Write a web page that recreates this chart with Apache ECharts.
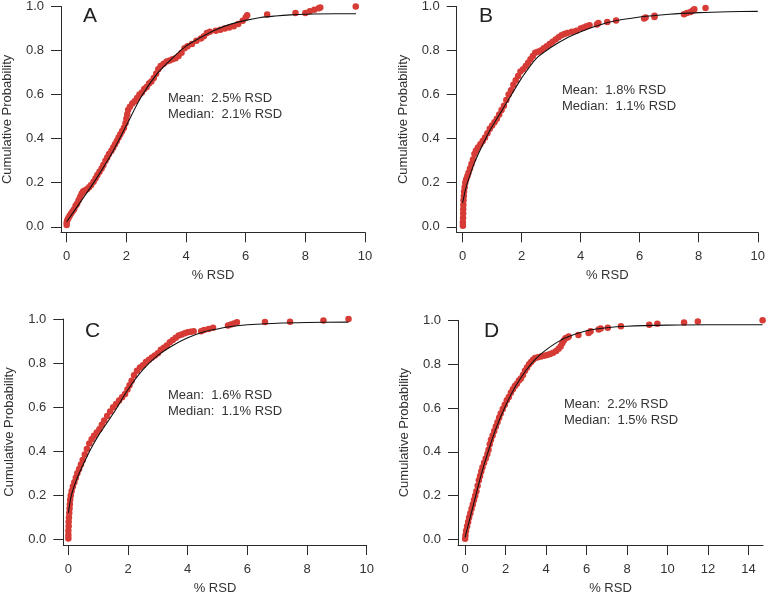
<!DOCTYPE html>
<html>
<head>
<meta charset="utf-8">
<script src="https://cdn.jsdelivr.net/npm/echarts@6/dist/echarts.min.js"></script>
<style>
html,body{margin:0;padding:0;background:#fff;}
#c{width:768px;height:596px;}
</style>
</head>
<body>
<div id="c"></div>
<script>
// ---- Data ----
const panelLabels = ['A', 'B', 'C', 'D'];
const meanTexts = ['Mean:  2.5% RSD', 'Mean:  1.8% RSD', 'Mean:  1.6% RSD', 'Mean:  2.2% RSD'];
const medianTexts = ['Median:  2.1% RSD', 'Median:  1.1% RSD', 'Median:  1.1% RSD', 'Median:  1.5% RSD'];
const xTicks10 = [0, 2, 4, 6, 8, 10];
const xTicks14 = [0, 2, 4, 6, 8, 10, 12, 14];
const yTicks = [0, 0.2, 0.4, 0.6, 0.8, 1.0];

// Panel A
const aX = [0,0,0.02,0.06,0.1,0.15,0.2,0.25,0.3,0.35,0.4,0.45,0.5,0.55,0.6,0.68,0.75,0.82,0.9,0.97,1.03,1.1,1.17,1.23,1.3,1.36,1.42,1.5,1.56,1.62,1.68,1.74,1.8,1.86,1.92,1.97,2.0,2.03,2.06,2.12,2.2,2.28,2.36,2.44,2.52,2.6,2.68,2.76,2.84,2.92,3.0,3.07,3.15,3.25,3.35,3.45,3.55,3.65,3.75,3.85,3.95,4.05,4.2,4.35,4.5,4.6,4.7,4.8,5.0,5.15,5.3,5.45,5.6,5.75,5.9,6.0,6.05,6.72,7.67,8.0,8.15,8.3,8.45,8.5,9.69];
const aY = [0.008,0.02,0.03,0.04,0.05,0.06,0.07,0.08,0.095,0.105,0.12,0.135,0.15,0.16,0.165,0.17,0.18,0.19,0.205,0.22,0.235,0.25,0.265,0.28,0.3,0.315,0.33,0.345,0.36,0.375,0.39,0.405,0.42,0.435,0.45,0.47,0.49,0.51,0.53,0.545,0.56,0.57,0.585,0.6,0.61,0.625,0.635,0.65,0.66,0.675,0.695,0.715,0.73,0.74,0.75,0.755,0.76,0.765,0.775,0.79,0.81,0.82,0.83,0.845,0.855,0.865,0.88,0.885,0.89,0.895,0.9,0.905,0.91,0.92,0.935,0.95,0.96,0.964,0.97,0.97,0.978,0.985,0.992,0.996,1.0];
const aFitX = [0,0.5,1,1.5,2,2.5,3,3.5,4,4.5,5,5.5,6,6.5,7,7.5,8,9,9.7];
const aFitY = [0.023,0.12,0.22,0.33,0.46,0.59,0.69,0.76,0.82,0.86,0.895,0.92,0.937,0.95,0.957,0.962,0.965,0.967,0.967];

// Panel B
const bX = [0.01,0.01,0.015,0.02,0.02,0.025,0.03,0.04,0.05,0.07,0.09,0.12,0.16,0.2,0.25,0.3,0.35,0.4,0.45,0.52,0.6,0.68,0.76,0.84,0.92,1.0,1.08,1.16,1.24,1.32,1.4,1.48,1.56,1.64,1.72,1.8,1.88,1.96,2.05,2.14,2.22,2.3,2.38,2.46,2.55,2.65,2.75,2.85,2.95,3.05,3.15,3.25,3.35,3.45,3.55,3.7,3.85,4.0,4.1,4.2,4.3,4.55,4.6,4.9,5.2,6.15,6.2,6.5,6.5,7.5,7.6,7.72,7.8,7.85,8.23];
const bY = [0.005,0.02,0.04,0.06,0.08,0.1,0.12,0.14,0.16,0.18,0.2,0.215,0.23,0.245,0.265,0.285,0.305,0.33,0.345,0.36,0.375,0.39,0.405,0.425,0.445,0.46,0.475,0.49,0.51,0.53,0.55,0.575,0.6,0.62,0.645,0.665,0.685,0.705,0.715,0.73,0.745,0.76,0.775,0.79,0.795,0.8,0.81,0.82,0.83,0.84,0.85,0.86,0.87,0.875,0.88,0.885,0.89,0.9,0.905,0.91,0.915,0.918,0.925,0.93,0.937,0.945,0.95,0.952,0.958,0.965,0.97,0.975,0.982,0.988,0.993];
const bFitX = [0,0.1,0.2,0.4,0.6,0.8,1.0,1.5,2,2.5,3,3.5,4,4.5,5,6,7,8,9,10];
const bFitY = [0.109,0.17,0.215,0.29,0.35,0.405,0.455,0.565,0.675,0.765,0.815,0.855,0.885,0.91,0.93,0.952,0.965,0.972,0.976,0.978];

// Panel C
const cX = [0,0,0,0.01,0.01,0.02,0.03,0.04,0.05,0.06,0.08,0.11,0.15,0.2,0.25,0.3,0.36,0.42,0.48,0.55,0.62,0.7,0.78,0.86,0.95,1.04,1.12,1.2,1.3,1.4,1.5,1.6,1.7,1.8,1.9,1.98,2.05,2.12,2.2,2.3,2.4,2.5,2.6,2.7,2.8,2.9,3.0,3.1,3.2,3.3,3.4,3.5,3.6,3.7,3.8,3.9,4.0,4.1,4.2,4.45,4.55,4.7,4.85,5.35,5.45,5.55,5.65,6.59,7.43,8.55,9.39];
const cY = [0.005,0.02,0.04,0.06,0.08,0.1,0.12,0.14,0.16,0.18,0.2,0.22,0.24,0.26,0.28,0.3,0.32,0.34,0.36,0.385,0.41,0.435,0.455,0.47,0.485,0.5,0.52,0.54,0.56,0.58,0.6,0.615,0.63,0.645,0.66,0.68,0.7,0.72,0.745,0.765,0.78,0.79,0.805,0.815,0.825,0.835,0.845,0.86,0.87,0.88,0.895,0.905,0.915,0.925,0.93,0.935,0.94,0.942,0.945,0.945,0.95,0.955,0.96,0.97,0.975,0.98,0.985,0.986,0.988,0.993,1.0];
const cFitX = [0,0.1,0.3,0.5,0.75,1,1.5,2,2.5,3,3.5,4,4.5,5,5.5,6,7,8,9.39];
const cFitY = [0.12,0.2,0.28,0.34,0.41,0.47,0.57,0.68,0.77,0.835,0.88,0.915,0.94,0.955,0.967,0.974,0.981,0.984,0.986];

// Panel D
const dX = [0,0.02,0.05,0.1,0.15,0.2,0.26,0.32,0.38,0.44,0.5,0.56,0.62,0.68,0.74,0.8,0.86,0.94,1.02,1.1,1.16,1.22,1.28,1.36,1.44,1.52,1.6,1.68,1.76,1.86,1.96,2.06,2.16,2.26,2.36,2.46,2.56,2.66,2.76,2.86,2.96,3.06,3.16,3.26,3.36,3.46,3.6,3.75,3.9,4.05,4.2,4.35,4.5,4.62,4.72,4.8,4.88,4.96,5.06,5.12,5.6,6.1,6.2,6.6,6.7,7.05,7.7,9.1,9.5,10.82,11.5,14.7];
const dY = [0.003,0.02,0.04,0.06,0.08,0.1,0.12,0.14,0.16,0.18,0.2,0.22,0.245,0.27,0.29,0.31,0.33,0.35,0.37,0.39,0.41,0.435,0.455,0.475,0.495,0.515,0.535,0.555,0.575,0.595,0.615,0.635,0.65,0.67,0.685,0.7,0.71,0.725,0.735,0.75,0.77,0.785,0.8,0.81,0.82,0.828,0.832,0.835,0.838,0.842,0.846,0.852,0.86,0.87,0.88,0.895,0.908,0.918,0.922,0.926,0.933,0.942,0.95,0.958,0.963,0.966,0.973,0.98,0.984,0.99,0.995,1.0];
const dFitX = [0,0.25,0.5,0.75,1,1.5,2,2.5,3,3.5,4,4.5,5,6,7,8,10,12,14.7];
const dFitY = [0.01,0.1,0.19,0.28,0.36,0.5,0.61,0.7,0.77,0.825,0.865,0.897,0.922,0.952,0.966,0.973,0.978,0.98,0.98];

// ---- Layout ----
const grids = [
  {left: 61, top: 6, width: 304, height: 226.3, xmin: -0.19, xmax: 10, ticks: xTicks10},
  {left: 456.7, top: 6, width: 303.3, height: 226.3, xmin: -0.2, xmax: 10, ticks: xTicks10},
  {left: 63.3, top: 319, width: 303.4, height: 226.3, xmin: -0.17, xmax: 10, ticks: xTicks10},
  {left: 458, top: 320.3, width: 305, height: 226, xmin: -0.35, xmax: 14.72, ticks: xTicks14}
];
const scatterX = [aX, bX, cX, dX], scatterY = [aY, bY, cY, dY];
const fitX = [aFitX, bFitX, cFitX, dFitX], fitY = [aFitY, bFitY, cFitY, dFitY];

const zip = (xs, ys) => xs.map((x, i) => [x, ys[i]]);
const axisColor = '#2a2a2a';
const textColor = '#333';
const font = 'Liberation Sans, Arial, sans-serif';

const option = {
  animation: false,
  backgroundColor: '#fff',
  grid: grids.map(g => ({left: g.left, top: g.top, width: g.width, height: g.height, containLabel: false})),
  xAxis: grids.map((g, i) => ({
    type: 'value', gridIndex: i, min: g.xmin, max: g.xmax,
    name: '% RSD', nameLocation: 'middle', nameGap: 37,
    nameTextStyle: {fontSize: 13, color: textColor, fontFamily: font},
    axisLine: {show: true, onZero: false, lineStyle: {color: axisColor, width: 1}},
    axisTick: {show: true, inside: false, length: 10, customValues: g.ticks, lineStyle: {color: axisColor}},
    axisLabel: {show: true, customValues: g.ticks, margin: 18, fontSize: 13, color: textColor, fontFamily: font,
      formatter: v => String(Math.round(v))},
    splitLine: {show: false}
  })),
  yAxis: grids.map((g, i) => ({
    type: 'value', gridIndex: i, min: -0.025, max: 1.0,
    name: 'Cumulative Probability', nameLocation: 'middle', nameGap: 47,
    nameTextStyle: {fontSize: 13, color: textColor, fontFamily: font},
    axisLine: {show: true, onZero: false, lineStyle: {color: axisColor, width: 1}},
    axisTick: {show: true, inside: false, length: 10, customValues: yTicks, lineStyle: {color: axisColor}},
    axisLabel: {show: true, customValues: yTicks, margin: 17, fontSize: 13, color: textColor, fontFamily: font,
      formatter: v => v.toFixed(1)},
    splitLine: {show: false}
  })),
  series: [].concat(
    grids.map((g, i) => ({
      type: 'scatter', xAxisIndex: i, yAxisIndex: i,
      data: zip(scatterX[i], scatterY[i]),
      symbol: 'circle', symbolSize: 6.5,
      itemStyle: {color: '#d63b36', opacity: 1},
      z: 2
    })),
    grids.map((g, i) => ({
      type: 'line', xAxisIndex: i, yAxisIndex: i,
      data: zip(fitX[i], fitY[i]),
      smooth: 0.3, showSymbol: false, symbol: 'none',
      lineStyle: {color: '#111', width: 1.1},
      z: 3
    }))
  ),
  graphic: [
    ...[[83, 16], [479, 16], [85, 331], [484, 331]].map((p, i) => ({
      type: 'text', x: p[0], y: p[1],
      style: {text: panelLabels[i], font: '21px ' + font, fill: '#222', textVerticalAlign: 'middle'}
    })),
    ...[[168, 98, 114], [562, 90, 106], [168, 395, 411], [564, 404, 420]].map((p, i) => ({
      type: 'group', children: [
        {type: 'text', x: p[0], y: p[1], style: {text: meanTexts[i], font: '13px ' + font, fill: textColor, textVerticalAlign: 'middle'}},
        {type: 'text', x: p[0], y: p[2], style: {text: medianTexts[i], font: '13px ' + font, fill: textColor, textVerticalAlign: 'middle'}}
      ]
    }))
  ]
};

const chart = echarts.init(document.getElementById('c'), null, {renderer: 'canvas'});
chart.setOption(option);
</script>
</body>
</html>
